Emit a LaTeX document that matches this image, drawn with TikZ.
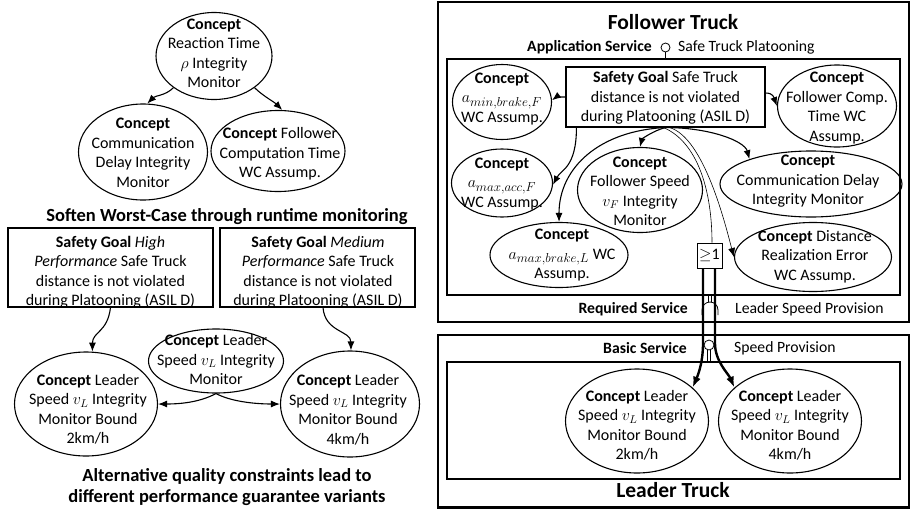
\RequirePackage{fix-cm}
\documentclass[tikz,border=0pt]{standalone}
\usepackage{fontspec}
\setmainfont{Carlito}
\usetikzlibrary{shapes.geometric,arrows.meta}
\newcommand\bigsub[1]{\hbox{\fontsize{13}{13}\selectfont$#1$}}
\newcommand\conceptnode[6]{%
  \node[conc,minimum width=#3pt,minimum height=#4pt] (#1) at (#2) {};
  \node[txt] (#1-t) at (#5) {#6};}
\begin{document}
\begin{tikzpicture}[x=1pt,y=-1pt,
  every node/.style={font=\fontsize{16}{19.5}\selectfont, inner sep=0pt},
  conc/.style={draw, ellipse, line width=1.1pt},
  txt/.style={align=center},
  sbox/.style={draw, rectangle, line width=1.1pt},
  arr/.style={line width=1.1pt, -{Latex[length=9pt,width=7pt]}},
  thinarr/.style={line width=0.6pt, -{Latex[length=9pt,width=7pt]}},
  thinline/.style={line width=0.6pt},
  bigarr/.style={line width=2.4pt, -{Latex[length=11pt,width=8pt]}},
  frame/.style={line width=2.4pt},
  innerframe/.style={line width=1.4pt},
  title/.style={font=\fontsize{18.5}{21}\selectfont\bfseries, align=center},
  truck/.style={font=\fontsize{21.5}{24}\selectfont\bfseries},
  svc/.style={font=\fontsize{15.7}{19.5}\selectfont\bfseries},
  plain/.style={font=\fontsize{15.7}{19.5}\selectfont},
]
\useasboundingbox (0,0) rectangle (911,509);

% ---------------- left part ----------------
\conceptnode{rt}{214,56}{116}{87}{214,53.5}{\textbf{Concept}\\Reaction Time\\$\rho$ Integrity\\Monitor}
\conceptnode{cd}{143,152}{129}{96}{143,153}{\textbf{Concept}\\Communication\\Delay Integrity\\Monitor}
\conceptnode{fct}{278,151}{134}{81}{280,154}{\textbf{Concept} Follower\\Computation Time\\WC Assump.}
\node[title] (t1) at (227,217) {Soften Worst-Case through runtime monitoring};

\node[sbox,minimum width=205pt,minimum height=79pt] (sgH) at (110.5,267.5) {};
\node[txt] (sgH-t) at (110.5,272.5) {\textbf{Safety Goal} \textit{High}\\\textit{Performance} Safe Truck\\distance is not violated\\during Platooning (ASIL D)};
\node[sbox,minimum width=195pt,minimum height=79pt] (sgM) at (317.5,267.5) {};
\node[txt] (sgM-t) at (318,272.5) {\textbf{Safety Goal} \textit{Medium}\\\textit{Performance} Safe Truck\\distance is not violated\\during Platooning (ASIL D)};

\conceptnode{lb2}{86,404}{143}{104}{88,409.5}{\textbf{Concept} Leader\\Speed $v_L$ Integrity\\Monitor Bound\\2km/h}
\conceptnode{lim}{216,361}{135}{64}{216,359.5}{\textbf{Concept} Leader\\Speed $v_L$ Integrity\\Monitor}
\conceptnode{lb4}{350,404}{139}{106}{348,410}{\textbf{Concept} Leader\\Speed $v_L$ Integrity\\Monitor Bound\\4km/h}
\node[title] (t2) at (227,487.5) {Alternative quality constraints lead to\\different performance guarantee variants};

\draw[arr] (rt.218) .. controls +(-8,8) and +(8,-8) .. (cd.85);
\draw[arr] (rt.322) .. controls +(8,8) and +(-8,-8) .. (fct.84);
\draw[arr] (sgH.south) .. controls +(-3,25) and +(0,-20) .. (lb2.83);
\draw[arr] ([xshift=5.5pt]sgM.south) .. controls +(2,25) and +(0,-20) .. (lb4.89);
\draw[arr] (lim.south) .. controls +(-15,8) and +(25,0) .. (lb2.east);
\draw[arr] (lim.south) .. controls +(15,8) and +(-25,0) .. (lb4.west);

% ---------------- follower truck ----------------
\draw[frame] (438,2) rectangle (909,322);
\node[truck] (ft) at (673,22) {Follower Truck};
\node[svc,anchor=east] (appl) at (652,47) {Application Service};
\node[draw,circle,line width=0.8pt,minimum size=9pt] (appc) at (665.5,47.5) {};
\node[plain,anchor=west] (appr) at (678,47) {Safe Truck Platooning};
\draw[innerframe] (447,59) rectangle (900,295);
\draw[thinline] (appc.south) -- (665.5,59);

\node[sbox,minimum width=199pt,minimum height=60pt] (sg) at (665.5,97) {};
\node[txt] (sg-t) at (665.5,98) {\textbf{Safety Goal} Safe Truck\\distance is not violated\\during Platooning (ASIL D)};

\conceptnode{amin}{502,102}{99}{75}{502,99}{\textbf{Concept}\\$a_{\bigsub{min{,}brake{,}F}}$\\WC Assump.}
\conceptnode{ffc}{837,106}{119}{82}{837,108}{\textbf{Concept}\\Follower Comp.\\Time WC\\Assump.}
\conceptnode{amax}{502,183}{101}{68}{502,184}{\textbf{Concept}\\$a_{\bigsub{max{,}acc{,}F}}$\\WC Assump.}
\conceptnode{fsp}{640,190}{125}{85}{640,191.5}{\textbf{Concept}\\Follower Speed\\$v_F$ Integrity\\Monitor}
\conceptnode{cdm}{811,184}{182}{66}{808,181.5}{\textbf{Concept}\\Communication Delay\\Integrity Monitor}
\conceptnode{abl}{559,255}{138}{65}{562,255.5}{\textbf{Concept}\\$a_{\bigsub{max{,}brake{,}L}}$ WC\\Assump.}
\conceptnode{dre}{813,257}{157}{69}{815,256.5}{\textbf{Concept} Distance\\Realization Error\\WC Assump.}
\node[sbox,line width=0.9pt,minimum width=25pt,minimum height=25pt] (ge1) at (709.5,255.5) {$\geq$1};

\draw[arr] (sg.west) .. controls +(-6,0) and +(4,-3) .. (amin.2);
\draw[arr] ([yshift=4pt]sg.east) .. controls +(8,0) and +(-3,-8) .. (ffc.west);
\draw[arr] ([xshift=11pt]sg.south west) .. controls +(0,40) and +(8,-15) .. (amax.358);
\draw[arr] (sg.south) .. controls +(-12,3) and +(2,-8) .. (fsp.north);
\draw[arr] (sg.south) .. controls +(-65,3) and +(0,-55) .. (abl.north);
\draw[arr] (sg.south) .. controls +(45,0) and +(-5,-18) .. (cdm.158);
\draw[thinarr] ([xshift=4pt]sg.south) .. controls +(35,10) and +(-8,-30) .. (dre.west);
\draw[thinline] ([xshift=-2pt]sg.south) .. controls +(35,15) and +(0,-50) .. ([xshift=2.5pt]ge1.north);

\node[svc,anchor=east] (reql) at (688,309) {Required Service};
\node[plain,anchor=west] (reqr) at (735,309) {Leader Speed Provision};
\coordinate (sockL) at (702,310);
\coordinate (sockR) at (718,310);
\draw[line width=0.8pt] (702,315) -- (sockL) .. controls (702,305.6) and (705.6,302) .. (710,302) .. controls (714.4,302) and (718,305.6) .. (sockR) -- (718,315);
\draw[thinline] (708.5,295) -- (708.5,302.2) (711.5,295) -- (711.5,302.2);

% ---------------- leader truck ----------------
\draw[frame] (438,335) rectangle (909,507.5);
\node[svc,anchor=east] (basl) at (687,348) {Basic Service};
\node[draw,circle,line width=0.8pt,minimum size=10pt] (basc) at (709,345) {};
\node[plain,anchor=west] (basr) at (734,348) {Speed Provision};
\draw[innerframe] (447,362) rectangle (900,479);
\draw[thinline] ([xshift=-1.5pt]basc.south) -- (707.5,362) ([xshift=1.5pt]basc.south) -- (710.5,362);

\conceptnode{ll2}{637,421}{143}{104}{637,425.5}{\textbf{Concept} Leader\\Speed $v_L$ Integrity\\Monitor Bound\\2km/h}
\conceptnode{ll4}{790,421}{143}{104}{790,425.5}{\textbf{Concept} Leader\\Speed $v_L$ Integrity\\Monitor Bound\\4km/h}
\node[truck] (lt) at (673,490) {Leader Truck};

\draw[bigarr] ([xshift=-6.5pt]ge1.south) -- ++(0,75) .. controls +(0,18) and +(6,-14) .. (ll2.31);
\draw[bigarr] ([xshift=5.5pt]ge1.south) -- ++(0,75) .. controls +(0,18) and +(-6,-14) .. (ll4.149);
\end{tikzpicture}
\end{document}
